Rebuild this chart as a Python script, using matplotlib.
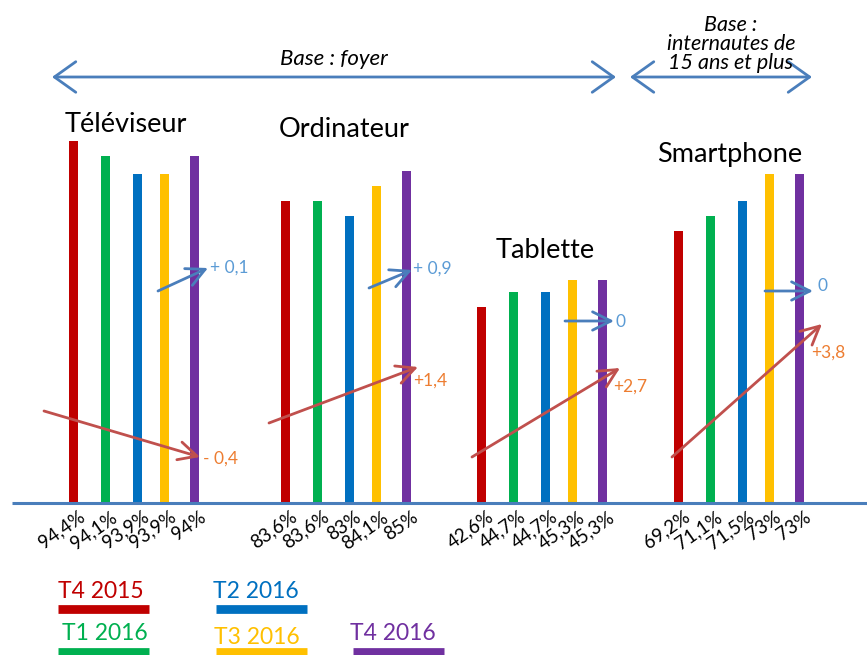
import matplotlib
matplotlib.use("Agg")
import matplotlib.pyplot as plt
from matplotlib.patches import FancyArrowPatch

plt.rcParams['font.family'] = ['Lato', 'DejaVu Sans']

# ---------------- data ----------------
categories = ["Téléviseur", "Ordinateur", "Tablette", "Smartphone"]
series = ["T4 2015", "T1 2016", "T2 2016", "T3 2016", "T4 2016"]
colors = ["#C00000", "#00B050", "#0070C0", "#FFC000", "#7030A0"]

# value labels shown under each bar
values = [
    [94.4, 94.1, 93.9, 93.9, 94.0],
    [83.6, 83.6, 83.0, 84.1, 85.0],
    [42.6, 44.7, 44.7, 45.3, 45.3],
    [69.2, 71.1, 71.5, 73.0, 73.0],
]
# drawn bar heights (as displayed in the original graphic)
bar_heights = [
    [362, 347, 329, 329, 347],
    [302, 302, 287, 317, 332],
    [196, 211, 211, 223, 223],
    [272, 287, 302, 329, 329],
]
# evolutions T3->T4 2016 (blue) and T4 2015->T4 2016 (red)
evol_quarter = [0.1, 0.9, 0.0, 0.0]
evol_year = [-0.4, 1.4, 2.7, 3.8]

base_labels = ["Base : foyer", "Base :\ninternautes de\n15 ans et plus"]

# ---------------- layout ----------------
W, H = 867, 655
BASE = 502.7
group_start = [73.5, 285.5, 481.5, 678.5]
slot = [0, 32, 64, 91, 121]
bar_w = 9

fig = plt.figure(figsize=(W / 100, H / 100), dpi=100)
ax = fig.add_axes([0, 0, 1, 1])
ax.set_xlim(0, W)
ax.set_ylim(BASE - H, BASE)
ax.axis("off")


def Y(ypx):
    return BASE - ypx


def fmt(v):
    if abs(v - round(v)) < 1e-9:
        return f"{int(round(v))}%"
    return f"{v:.1f}%".replace(".", ",")


# bars + value labels
for g, cat in enumerate(categories):
    xs = [group_start[g] + s for s in slot]
    ax.bar(xs, bar_heights[g], width=bar_w, color=colors, zorder=2)
    for x, v in zip(xs, values[g]):
        ax.text(x + 5, Y(508), fmt(v), rotation=35, rotation_mode="anchor",
                ha="right", va="top", fontsize=13.5, color="black")

# baseline
ax.plot([12, W], [0, 0], color="#4A7EBB", lw=2.2, zorder=3, solid_capstyle="butt")

# category titles
title_pos = [(65, 132), (279, 137), (496, 258), (657, 162)]
for cat, (tx, ty) in zip(categories, title_pos):
    ax.text(tx, Y(ty), cat, fontsize=19.5, ha="left", va="baseline", color="black")

# evolution arrows
blue_arrow = [((158, 291), (208, 268)), ((369, 288), (412, 270)),
              ((565, 321), (614, 321)), ((765, 291), (813, 291))]
red_arrow = [((44, 411), (200, 457)), ((269, 423), (418, 367)),
             ((472, 457), (620, 368)), ((672, 457), (822, 324))]
blue_lab = [(210, 268), (413, 269), (616, 322), (818, 286)]
red_lab = [(203, 459), (413, 381), (613, 387), (811, 353)]


def arrow(p0, p1, color, lw=2.0, ms=22):
    a = FancyArrowPatch((p0[0], Y(p0[1])), (p1[0], Y(p1[1])),
                        arrowstyle="->,head_length=0.6,head_width=0.3",
                        mutation_scale=ms, color=color, lw=lw, zorder=4,
                        shrinkA=0, shrinkB=0)
    ax.add_patch(a)


def evo_txt(v):
    if v == 0:
        return "0"
    s = f"{abs(v):.1f}".replace(".", ",")
    return ("+" if v > 0 else "-") + s


for i in range(4):
    arrow(*blue_arrow[i], "#4A7EBB")
    arrow(*red_arrow[i], "#C0504D")
    t = evo_txt(evol_quarter[i])
    if evol_quarter[i] > 0:
        t = t.replace("+", "+ ")
    ax.text(blue_lab[i][0], Y(blue_lab[i][1]), t, fontsize=12.5, color="#5B9BD5",
            ha="left", va="center", zorder=5)
    t = evo_txt(evol_year[i])
    if evol_year[i] < 0:
        t = t.replace("-", "- ")
    ax.text(red_lab[i][0], Y(red_lab[i][1]), t, fontsize=12.5, color="#ED7D31",
            ha="left", va="center", zorder=5)

# base double arrows
arrow_col = "#4A7EBB"
for (x0, x1) in [(52, 616), (630, 812)]:
    a = FancyArrowPatch((x0, Y(77)), (x1, Y(77)),
                        arrowstyle="<->,head_length=0.7,head_width=0.5",
                        mutation_scale=22, color=arrow_col, lw=2.0,
                        shrinkA=0, shrinkB=0)
    ax.add_patch(a)
ax.text(334, Y(59), base_labels[0], fontsize=16, style="italic", ha="center",
        va="center", color="black")
ax.text(731, Y(44), base_labels[1], fontsize=15.5, style="italic", ha="center",
        va="center", color="black", linespacing=0.92)

# legend
leg_pos = [(58, 591, 58, 608.5), (62, 634, 58, 652), (213, 591, 216, 608.5),
           (214, 637, 216, 652), (350, 634, 353, 652)]
for name, col, (tx, ty, bx, by) in zip(series, colors, leg_pos):
    ax.text(tx, Y(ty), name, fontsize=16.5, color=col, ha="left", va="center")
    ax.plot([bx, bx + 91], [Y(by), Y(by)], color=col, lw=6.3,
            solid_capstyle="butt")

fig.savefig("out.png", dpi=100)
